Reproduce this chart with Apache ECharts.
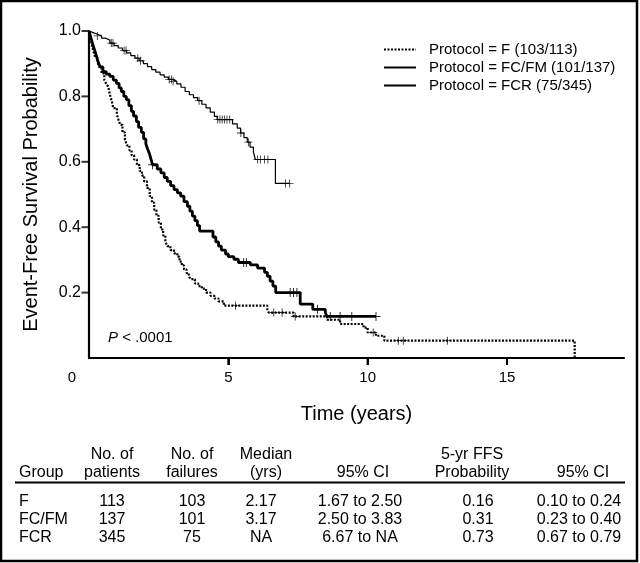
<!DOCTYPE html>
<html>
<head>
<meta charset="utf-8">
<script src="https://cdn.jsdelivr.net/npm/echarts@6/dist/echarts.min.js"></script>
<style>
html,body{margin:0;padding:0;background:#fff;}
#chart{width:640px;height:563px;}
</style>
</head>
<body>
<div id="chart"></div>
<script>
// ---- Data ----
const seriesNames = ['Protocol = F (103/113)', 'Protocol = FC/FM (101/137)', 'Protocol = FCR (75/345)'];
const xTicks = [0, 5, 10, 15];
const yTicks = [0.2, 0.4, 0.6, 0.8, 1.0];

// Kaplan-Meier steps: [time (years), survival after event]
const fSteps = [[0,1],[0.05,0.98],[0.1,0.96],[0.15,0.94],[0.22,0.92],[0.3,0.905],[0.37,0.89],[0.45,0.87],[0.55,0.85],[0.62,0.838],[0.69,0.83],[0.75,0.805],[0.82,0.785],[0.87,0.764],[1.0,0.744],[1.06,0.728],[1.12,0.713],[1.2,0.69],[1.29,0.668],[1.36,0.65],[1.45,0.635],[1.53,0.62],[1.62,0.607],[1.72,0.59],[1.82,0.572],[1.9,0.558],[1.98,0.54],[2.08,0.52],[2.18,0.495],[2.26,0.475],[2.34,0.454],[2.42,0.435],[2.5,0.414],[2.58,0.393],[2.66,0.375],[2.74,0.356],[2.81,0.342],[2.92,0.33],[3.05,0.32],[3.17,0.31],[3.25,0.295],[3.33,0.283],[3.41,0.271],[3.5,0.26],[3.58,0.25],[3.65,0.241],[3.8,0.228],[3.92,0.22],[4.05,0.212],[4.2,0.2],[4.36,0.19],[4.5,0.182],[4.65,0.173],[4.84,0.16],[6.4,0.149],[6.45,0.139],[7.34,0.127],[8.54,0.117],[9.01,0.104],[9.85,0.093],[10.0,0.078],[10.3,0.068],[10.6,0.053],[17.43,0]];
const fEnd = 17.43;
const fCensor = [5.26, 6.63, 6.93, 7.4, 10.2, 11.1, 11.28, 12.86];

const fcfmSteps = [[0,1],[0.05,0.985],[0.1,0.97],[0.15,0.955],[0.2,0.942],[0.26,0.925],[0.33,0.905],[0.4,0.89],[0.5,0.876],[0.62,0.868],[0.75,0.861],[0.87,0.85],[0.98,0.84],[1.08,0.826],[1.16,0.815],[1.25,0.8],[1.34,0.79],[1.43,0.772],[1.52,0.754],[1.6,0.74],[1.7,0.723],[1.78,0.705],[1.88,0.69],[1.96,0.67],[2.04,0.655],[2.1,0.64],[2.16,0.627],[2.22,0.61],[2.28,0.591],[2.45,0.578],[2.58,0.566],[2.7,0.552],[2.81,0.54],[2.93,0.527],[3.05,0.515],[3.17,0.505],[3.29,0.495],[3.41,0.478],[3.53,0.464],[3.62,0.449],[3.71,0.434],[3.8,0.42],[3.89,0.405],[3.97,0.388],[4.45,0.37],[4.55,0.355],[4.65,0.342],[4.75,0.33],[4.9,0.318],[5.0,0.31],[5.2,0.302],[5.36,0.292],[5.79,0.285],[6.05,0.275],[6.3,0.262],[6.4,0.25],[6.5,0.235],[6.6,0.22],[6.7,0.2],[7.58,0.165],[8.03,0.149],[8.48,0.139],[8.54,0.127]];
const fcfmEnd = 10.3;
const fcfmCensor = [2.28, 5.55, 5.65, 7.22, 7.34, 7.46, 8.2, 8.66, 9.01, 9.43, 10.3];

const fcrSteps = [[0,1],[0.05,0.995],[0.15,0.99],[0.3,0.985],[0.45,0.978],[0.6,0.972],[0.75,0.963],[0.9,0.955],[1.05,0.948],[1.2,0.94],[1.35,0.933],[1.5,0.925],[1.65,0.917],[1.8,0.909],[1.95,0.9],[2.1,0.891],[2.25,0.882],[2.4,0.874],[2.55,0.866],[2.7,0.859],[2.85,0.852],[3.0,0.846],[3.15,0.838],[3.3,0.828],[3.45,0.815],[3.6,0.805],[3.75,0.796],[3.9,0.787],[4.05,0.776],[4.2,0.765],[4.35,0.752],[4.5,0.739],[4.6,0.729],[5.15,0.716],[5.32,0.703],[5.44,0.688],[5.56,0.674],[5.68,0.66],[5.78,0.645],[5.9,0.63],[5.97,0.607],[6.69,0.534]];
const fcrEnd = 7.2;
const fcrCensor = [0.3, 0.8, 0.86, 1.26, 1.33, 1.75, 1.85, 2.88, 2.96, 3.02, 3.95, 4.62, 4.7, 4.78, 4.86, 4.95, 5.05, 5.45, 5.72, 6.05, 6.15, 6.3, 6.42, 7.05, 7.2];

// Table
const tableHead1 = ['', 'No. of', 'No. of', 'Median', '', '5-yr FFS', ''];
const tableHead2 = ['Group', 'patients', 'failures', '(yrs)', '95% CI', 'Probability', '95% CI'];
const tableGroup = ['F', 'FC/FM', 'FCR'];
const tablePatients = ['113', '137', '345'];
const tableFailures = ['103', '101', '75'];
const tableMedian = ['2.17', '3.17', 'NA'];
const tableMedianCI = ['1.67 to 2.50', '2.50 to 3.83', '6.67 to NA'];
const tableFFS = ['0.16', '0.31', '0.73'];
const tableFFSCI = ['0.10 to 0.24', '0.23 to 0.40', '0.67 to 0.79'];

// ---- Build ----
const FONT = '"Liberation Sans", Arial, Helvetica, sans-serif';
function stepData(steps, end) {
  const d = steps.map(p => [p[0], p[1]]);
  const last = steps[steps.length - 1];
  if (end > last[0]) d.push([end, last[1]]);
  return d;
}
function survAt(steps, t) {
  let s = steps[0][1];
  for (const p of steps) { if (p[0] <= t) s = p[1]; else break; }
  return s;
}
function censorData(steps, times) { return times.map(t => [t, survAt(steps, t)]); }
function near(list, v) { return list.some(t => Math.abs(t - v) < 1e-6); }

const plusPath = 'path://M4,0h1v4h4v1h-4v4h-1v-4h-4v-1h4z';

const chart = echarts.init(document.getElementById('chart'), null, {renderer: 'canvas'});

const option = {
  animation: false,
  backgroundColor: '#fff',
  textStyle: {fontFamily: FONT, color: '#000'},
  grid: {left: 89, top: 31, right: 16, bottom: 205, containLabel: false},
  legend: {
    data: seriesNames,
    orient: 'vertical',
    left: 378, top: 37,
    itemWidth: 32, itemHeight: 14, itemGap: 3,
    itemStyle: {opacity: 0},
    textStyle: {fontSize: 15, color: '#000', fontFamily: FONT, padding: [0, 0, 0, 8]},
    inactiveColor: '#000'
  },
  xAxis: {
    type: 'value', min: 0, max: 19.2, interval: 5,
    name: 'Time (years)', nameLocation: 'middle', nameGap: 46,
    nameTextStyle: {fontSize: 20, color: '#000', fontFamily: FONT},
    axisLine: {show: true, onZero: false, lineStyle: {color: '#000', width: 2.2}},
    axisTick: {show: true, length: 7, lineStyle: {color: '#000', width: 2}, customValues: xTicks.slice(1)},
    axisLabel: {
      showMaxLabel: false, margin: 12, fontSize: 15, color: '#000', fontFamily: FONT,
      formatter: v => v === 0 ? '{z|0}' : (near(xTicks, v) ? String(v) : ''),
      rich: {z: {fontSize: 15, fontFamily: FONT, color: '#000', padding: [0, 34, 0, 0]}}
    },
    splitLine: {show: false}
  },
  yAxis: {
    type: 'value', min: 0, max: 1, interval: 0.2,
    name: 'Event-Free Survival Probability', nameLocation: 'middle', nameGap: 48,
    nameTextStyle: {fontSize: 20, color: '#000', fontFamily: FONT},
    axisLine: {show: true, onZero: false, lineStyle: {color: '#000', width: 2.2}},
    axisTick: {show: false},
    axisLabel: {margin: 8, fontSize: 16, color: '#000', fontFamily: FONT, formatter: v => near(yTicks, v) ? v.toFixed(1) : ''},
    splitLine: {show: false}
  },
  series: [
    {name: seriesNames[0], type: 'line', step: 'end', symbol: 'none', showSymbol: false, data: stepData(fSteps, fEnd),
     lineStyle: {color: '#000', width: 2.2, type: [2, 1.5]}, itemStyle: {color: '#000'}, z: 3},
    {name: seriesNames[1], type: 'line', step: 'end', symbol: 'none', showSymbol: false, data: stepData(fcfmSteps, fcfmEnd),
     lineStyle: {color: '#000', width: 2.8}, itemStyle: {color: '#000'}, z: 4},
    {name: seriesNames[2], type: 'line', step: 'end', symbol: 'none', showSymbol: false, data: stepData(fcrSteps, fcrEnd),
     lineStyle: {color: '#000', width: 1.2}, itemStyle: {color: '#000'}, z: 5},
    {name: 'F censored', type: 'scatter', symbol: plusPath, symbolSize: [8, 8], data: censorData(fSteps, fCensor),
     itemStyle: {color: '#000'}, z: 6, silent: true},
    {name: 'FC/FM censored', type: 'scatter', symbol: plusPath, symbolSize: [9, 9], data: censorData(fcfmSteps, fcfmCensor),
     itemStyle: {color: '#000'}, z: 6, silent: true},
    {name: 'FCR censored', type: 'scatter', symbol: plusPath, symbolSize: [8, 8], data: censorData(fcrSteps, fcrCensor),
     itemStyle: {color: '#000'}, z: 6, silent: true},
    // y-axis tick marks, placed at the tick values by the axis scale
    {name: 'y ticks', type: 'scatter', clip: false, silent: true, symbol: 'rect', symbolSize: [7, 2], symbolOffset: [-4, 0],
     data: yTicks.map(v => [0, v]), itemStyle: {color: '#000'}, z: 2}
  ]
};
chart.setOption(option);

// ---- Graphic layer (added after layout, so tick positions come from the axis scales) ----
const graphics = [];
const x0y = chart.convertToPixel({yAxisIndex: 0}, 0);
xTicks.slice(1).forEach(v => {
  const px = chart.convertToPixel({xAxisIndex: 0}, v);
  graphics.push({type: 'line', z: 100, silent: true, shape: {x1: px, y1: x0y, x2: px, y2: x0y + 7}, style: {stroke: '#000', lineWidth: 2}});
});
graphics.push({type: 'rect', silent: true, shape: {x: 1, y: 1, width: 636, height: 560}, style: {fill: 'transparent', stroke: '#000', lineWidth: 2.5}});
graphics.push({type: 'text', left: 108, top: 330, style: {text: '{i|P} < .0001', font: '15px ' + FONT, fill: '#000', rich: {i: {fontStyle: 'italic', fontSize: 15, fontFamily: FONT}}}});

// table
const colX = [19, 112, 192, 266, 363, 472, 583];
const colAlign = ['left', 'center', 'center', 'center', 'center', 'center', 'center'];
const valX = [19, 112, 192, 261, 360, 478, 579];
function txt(x, y, s, align) {
  graphics.push({type: 'text', x: x, y: y, style: {text: s, font: '16px ' + FONT, fill: '#000', align: align, verticalAlign: 'middle'}});
}
tableHead1.forEach((s, i) => { if (s) txt(colX[i], 455, s, colAlign[i]); });
tableHead2.forEach((s, i) => txt(colX[i], 473, s, colAlign[i]));
graphics.push({type: 'line', shape: {x1: 15, y1: 482.5, x2: 625, y2: 482.5}, style: {stroke: '#000', lineWidth: 1.8}});
const cols = [tableGroup, tablePatients, tableFailures, tableMedian, tableMedianCI, tableFFS, tableFFSCI];
const rowY = [502, 520, 538];
cols.forEach((col, i) => col.forEach((s, r) => txt(valX[i], rowY[r], s, colAlign[i])));

chart.setOption({graphic: graphics});
</script>
</body>
</html>
